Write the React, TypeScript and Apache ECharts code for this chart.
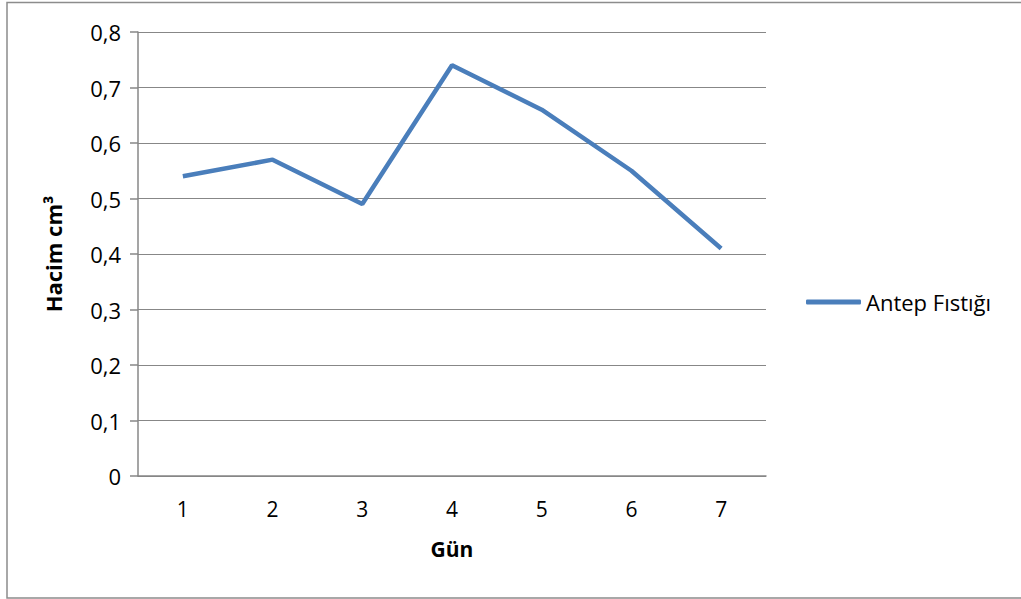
import React, { useEffect, useRef } from "react";
import * as echarts from "echarts";

const days = ["1", "2", "3", "4", "5", "6", "7"];
const volumes = [0.54, 0.57, 0.49, 0.74, 0.66, 0.55, 0.41];
const seriesName = "Antep Fıstığı";
const xName = "Gün";
const yName = "Hacim cm³";

const FONT = "Open Sans";
const GRAY = "#878787";

export default function App() {
  const ref = useRef<HTMLDivElement>(null);
  useEffect(() => {
    const chart = echarts.init(ref.current!, null, { renderer: "svg" });
    chart.setOption({
      animation: false,
      backgroundColor: "#ffffff",
      grid: { left: 138, right: 255, top: 32, bottom: 123, containLabel: false },
      graphic: [
        {
          type: "rect",
          shape: { x: 7, y: 2.5, width: 1030, height: 595.5 },
          style: { fill: "none", stroke: "#8c8c8c", lineWidth: 1.5 },
          silent: true,
        },
      ],
      legend: {
        show: true,
        left: 801,
        top: 286,
        icon: "roundRect",
        itemWidth: 55,
        itemHeight: 5,
        itemGap: 4,
        textStyle: { fontFamily: FONT, fontSize: 22, color: "#000" },
        data: [seriesName],
      },
      xAxis: {
        type: "category",
        data: days,
        boundaryGap: true,
        name: xName,
        nameLocation: "middle",
        nameGap: 62,
        nameTextStyle: { fontFamily: FONT, fontSize: 21, fontWeight: "bold", color: "#000" },
        axisLine: { lineStyle: { color: GRAY, width: 1.5 } },
        axisTick: { show: false },
        axisLabel: { fontFamily: FONT, fontSize: 21, color: "#000", margin: 22 },
      },
      yAxis: {
        type: "value",
        min: 0,
        max: 0.8,
        interval: 0.1,
        name: yName,
        nameLocation: "middle",
        nameGap: 74,
        nameTextStyle: { fontFamily: FONT, fontSize: 22, fontWeight: "bold", color: "#000" },
        axisLine: { show: true, lineStyle: { color: GRAY, width: 1.5 } },
        axisTick: { show: true, length: 8, lineStyle: { color: GRAY, width: 1.5 } },
        splitLine: { show: true, lineStyle: { color: GRAY, width: 1.2 } },
        axisLabel: {
          fontFamily: FONT,
          fontSize: 22,
          color: "#000",
          margin: 17,
          formatter: (v: number) => (Math.round(v * 10) / 10).toString().replace(".", ","),
        },
      },
      series: [
        {
          name: seriesName,
          type: "line",
          data: volumes,
          symbol: "none",
          lineStyle: { color: "#4A7EBB", width: 4.5 },
          itemStyle: { color: "#4A7EBB" },
        },
      ],
    });
    return () => chart.dispose();
  }, []);
  return (
    <div
      ref={ref}
      style={{ position: "absolute", left: 0, top: 0, width: 1021, height: 599 }}
    />
  );
}
